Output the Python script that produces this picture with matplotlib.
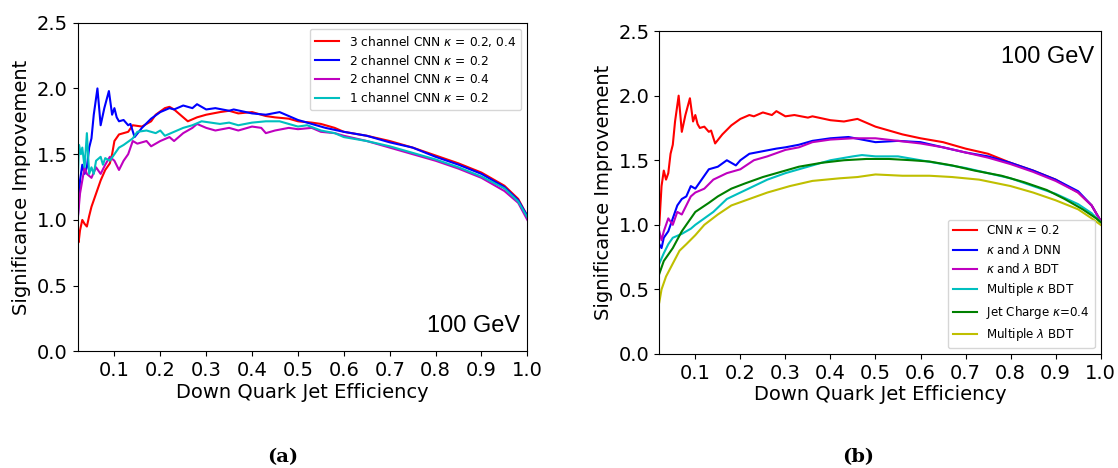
import matplotlib
matplotlib.use("Agg")
import matplotlib.pyplot as plt

# panel (a): 100 GeV, CNN channel comparison
x_3ch = [0.02, 0.022, 0.025, 0.03, 0.035, 0.04, 0.045, 0.05, 0.06, 0.07, 0.08, 0.09, 0.095,
         0.1, 0.11, 0.13, 0.14, 0.16, 0.18, 0.19, 0.21, 0.22, 0.23, 0.25, 0.26, 0.28, 0.3,
         0.33, 0.35, 0.37, 0.4, 0.43, 0.45, 0.48, 0.5, 0.53, 0.55, 0.58, 0.6, 0.65, 0.7,
         0.75, 0.8, 0.85, 0.9, 0.95, 0.98, 1.0]
y_3ch = [0.9, 0.83, 0.92, 1.0, 0.97, 0.95, 1.03, 1.1, 1.2, 1.3, 1.38, 1.43, 1.5,
         1.6, 1.65, 1.67, 1.72, 1.71, 1.75, 1.8, 1.85, 1.86, 1.84, 1.78, 1.75, 1.78, 1.8,
         1.82, 1.83, 1.81, 1.82, 1.79, 1.78, 1.77, 1.75, 1.74, 1.73, 1.7, 1.67, 1.64, 1.6,
         1.55, 1.49, 1.43, 1.36, 1.26, 1.16, 1.03]

# same network is the "CNN kappa = 0.2" curve in panel (b)
x_2ch_02 = [0.02, 0.025, 0.03, 0.035, 0.04, 0.045, 0.05, 0.055, 0.063, 0.07, 0.078, 0.088,
            0.095, 0.1, 0.105, 0.11, 0.12, 0.13, 0.135, 0.144, 0.16, 0.18, 0.2, 0.22, 0.23,
            0.25, 0.27, 0.28, 0.3, 0.32, 0.35, 0.36, 0.4, 0.43, 0.46, 0.48, 0.5, 0.53, 0.56,
            0.6, 0.65, 0.7, 0.75, 0.8, 0.85, 0.9, 0.95, 0.98, 1.0]
y_2ch_02 = [1.0, 1.3, 1.42, 1.35, 1.4, 1.55, 1.62, 1.8, 2.0, 1.72, 1.85, 1.98,
            1.8, 1.85, 1.78, 1.75, 1.76, 1.72, 1.73, 1.63, 1.7, 1.77, 1.82, 1.85, 1.84,
            1.87, 1.85, 1.88, 1.84, 1.85, 1.83, 1.84, 1.81, 1.8, 1.82, 1.79, 1.76, 1.73, 1.7,
            1.67, 1.64, 1.59, 1.55, 1.48, 1.42, 1.35, 1.25, 1.15, 1.03]

x_2ch_04 = [0.02, 0.025, 0.03, 0.035, 0.04, 0.05, 0.06, 0.07, 0.08, 0.09, 0.1, 0.11, 0.12,
            0.13, 0.14, 0.15, 0.17, 0.18, 0.2, 0.22, 0.23, 0.25, 0.27, 0.28, 0.3, 0.32, 0.35,
            0.37, 0.4, 0.42, 0.43, 0.45, 0.48, 0.5, 0.53, 0.55, 0.58, 0.6, 0.65, 0.7, 0.75,
            0.8, 0.85, 0.9, 0.95, 0.98, 1.0]
y_2ch_04 = [1.0, 1.2, 1.3, 1.4, 1.35, 1.32, 1.4, 1.35, 1.42, 1.48, 1.45, 1.38, 1.45,
            1.5, 1.6, 1.58, 1.6, 1.56, 1.6, 1.63, 1.6, 1.66, 1.7, 1.73, 1.7, 1.68, 1.7,
            1.68, 1.71, 1.7, 1.66, 1.68, 1.7, 1.69, 1.7, 1.67, 1.66, 1.64, 1.6, 1.55, 1.5,
            1.45, 1.39, 1.32, 1.22, 1.13, 1.0]

x_1ch = [0.02, 0.023, 0.027, 0.03, 0.035, 0.04, 0.045, 0.05, 0.055, 0.06, 0.07, 0.075,
         0.08, 0.09, 0.1, 0.11, 0.12, 0.14, 0.15, 0.17, 0.19, 0.2, 0.21, 0.23, 0.25, 0.27,
         0.29, 0.31, 0.33, 0.35, 0.37, 0.4, 0.43, 0.46, 0.48, 0.5, 0.52, 0.55, 0.58, 0.6,
         0.65, 0.7, 0.75, 0.8, 0.85, 0.9, 0.95, 0.98, 1.0]
y_1ch = [1.3, 1.57, 1.5, 1.55, 1.4, 1.66, 1.35, 1.4, 1.35, 1.45, 1.48, 1.42,
         1.47, 1.45, 1.5, 1.55, 1.57, 1.62, 1.67, 1.68, 1.66, 1.68, 1.64, 1.67, 1.7, 1.72,
         1.75, 1.74, 1.73, 1.74, 1.72, 1.74, 1.75, 1.75, 1.73, 1.71, 1.72, 1.68, 1.66, 1.63,
         1.6, 1.56, 1.51, 1.46, 1.4, 1.33, 1.24, 1.14, 1.02]

# panel (b): 100 GeV, comparison with other taggers
x_dnn = [0.02, 0.025, 0.03, 0.04, 0.05, 0.06, 0.07, 0.08, 0.09, 0.1, 0.11, 0.12, 0.13,
         0.15, 0.17, 0.19, 0.2, 0.22, 0.25, 0.28, 0.3, 0.33, 0.36, 0.4, 0.44, 0.47, 0.5,
         0.55, 0.6, 0.65, 0.7, 0.75, 0.8, 0.85, 0.9, 0.95, 0.98, 1.0]
y_dnn = [0.85, 0.82, 0.9, 0.95, 1.05, 1.15, 1.2, 1.22, 1.3, 1.28, 1.33, 1.38, 1.43,
         1.45, 1.5, 1.46, 1.5, 1.55, 1.57, 1.59, 1.6, 1.62, 1.65, 1.67, 1.68, 1.66, 1.64,
         1.65, 1.64, 1.6, 1.56, 1.53, 1.48, 1.42, 1.35, 1.26, 1.15, 1.03]

x_bdt_kl = [0.02, 0.025, 0.03, 0.04, 0.05, 0.06, 0.07, 0.08, 0.09, 0.1, 0.12, 0.14, 0.17,
            0.2, 0.23, 0.26, 0.3, 0.33, 0.36, 0.4, 0.45, 0.5, 0.55, 0.6, 0.65, 0.7, 0.75,
            0.8, 0.85, 0.9, 0.95, 0.98, 1.0]
y_bdt_kl = [0.95, 0.88, 0.95, 1.05, 1.0, 1.1, 1.08, 1.15, 1.22, 1.25, 1.28, 1.35, 1.4,
            1.43, 1.5, 1.53, 1.58, 1.6, 1.64, 1.66, 1.67, 1.67, 1.65, 1.63, 1.6, 1.56, 1.52,
            1.47, 1.41, 1.34, 1.25, 1.15, 1.03]

x_bdt_k = [0.02, 0.03, 0.04, 0.05, 0.07, 0.09, 0.1, 0.12, 0.14, 0.17, 0.2, 0.23, 0.26,
           0.3, 0.35, 0.4, 0.45, 0.47, 0.5, 0.55, 0.6, 0.65, 0.7, 0.75, 0.8, 0.85, 0.9,
           0.95, 0.98, 1.0]
y_bdt_k = [0.7, 0.78, 0.85, 0.9, 0.93, 0.97, 1.0, 1.05, 1.1, 1.2, 1.25, 1.3, 1.35,
           1.4, 1.45, 1.5, 1.53, 1.54, 1.53, 1.53, 1.5, 1.47, 1.44, 1.4, 1.36, 1.3, 1.24,
           1.16, 1.09, 1.02]

x_jc = [0.02, 0.03, 0.05, 0.07, 0.09, 0.1, 0.13, 0.15, 0.18, 0.21, 0.25, 0.29, 0.33,
        0.38, 0.43, 0.48, 0.53, 0.58, 0.62, 0.67, 0.72, 0.78, 0.83, 0.88, 0.92, 0.96,
        0.99, 1.0]
y_jc = [0.62, 0.72, 0.82, 0.95, 1.05, 1.1, 1.17, 1.22, 1.28, 1.32, 1.37, 1.41, 1.45,
        1.48, 1.5, 1.51, 1.51, 1.5, 1.49, 1.46, 1.42, 1.38, 1.33, 1.27, 1.2, 1.12,
        1.05, 1.02]

x_bdt_l = [0.02, 0.025, 0.035, 0.05, 0.065, 0.08, 0.1, 0.12, 0.15, 0.18, 0.22, 0.26,
           0.31, 0.36, 0.42, 0.46, 0.5, 0.56, 0.62, 0.67, 0.73, 0.8, 0.85, 0.9, 0.95,
           0.98, 1.0]
y_bdt_l = [0.4, 0.5, 0.6, 0.7, 0.8, 0.85, 0.92, 1.0, 1.08, 1.15, 1.2, 1.25,
           1.3, 1.34, 1.36, 1.37, 1.39, 1.38, 1.38, 1.37, 1.35, 1.3, 1.25, 1.19, 1.12,
           1.05, 1.0]

fig = plt.figure(figsize=(11.18, 4.68), dpi=100)
ax1 = fig.add_axes([0.0695, 0.249, 0.4022, 0.7026])
ax2 = fig.add_axes([0.5897, 0.2436, 0.3948, 0.690])

ax1.plot(x_3ch, y_3ch, 'r', lw=1.5, label=r'3 channel CNN $\kappa$ = 0.2, 0.4')
ax1.plot(x_2ch_02, y_2ch_02, 'b', lw=1.5, label=r'2 channel CNN $\kappa$ = 0.2')
ax1.plot(x_2ch_04, y_2ch_04, 'm', lw=1.5, label=r'2 channel CNN $\kappa$ = 0.4')
ax1.plot(x_1ch, y_1ch, 'c', lw=1.5, label=r'1 channel CNN $\kappa$ = 0.2')
ax1.legend(loc='upper right', fontsize=8.8, labelspacing=0.4)
ax1.text(0.985, 0.045, '100 GeV', transform=ax1.transAxes, ha='right', va='bottom',
         fontsize=17, family='Liberation Sans')

ax2.plot(x_2ch_02, y_2ch_02, 'r', lw=1.5, label=r'CNN $\kappa$ = 0.2')
ax2.plot(x_dnn, y_dnn, 'b', lw=1.5, label=r'$\kappa$ and $\lambda$ DNN')
ax2.plot(x_bdt_kl, y_bdt_kl, 'm', lw=1.5, label=r'$\kappa$ and $\lambda$ BDT')
ax2.plot(x_bdt_k, y_bdt_k, 'c', lw=1.5, label=r'Multiple $\kappa$ BDT')
ax2.plot(x_jc, y_jc, 'g', lw=1.5, label=r'Jet Charge $\kappa$=0.4')
ax2.plot(x_bdt_l, y_bdt_l, 'y', lw=1.5, label=r'Multiple $\lambda$ BDT')
ax2.legend(loc='lower right', fontsize=8.6, labelspacing=0.45)
ax2.text(0.985, 0.955, '100 GeV', transform=ax2.transAxes, ha='right', va='top',
         fontsize=17, family='Liberation Sans')

for ax in (ax1, ax2):
    ax.set_xlim(0.02, 1.0)
    ax.set_ylim(0.0, 2.5)
    ax.set_xticks([0.1, 0.2, 0.3, 0.4, 0.5, 0.6, 0.7, 0.8, 0.9, 1.0])
    ax.set_yticks([0.0, 0.5, 1.0, 1.5, 2.0, 2.5])
    ax.tick_params(labelsize=14)
    ax.set_xlabel('Down Quark Jet Efficiency', fontsize=14, labelpad=2)
    ax.set_ylabel('Significance Improvement', fontsize=14)

fig.text(283 / 1118, 1 - 457 / 468, '(a)', ha='center', va='center',
         fontsize=14, fontweight='bold', family='DejaVu Serif')
fig.text(858 / 1118, 1 - 457 / 468, '(b)', ha='center', va='center',
         fontsize=14, fontweight='bold', family='DejaVu Serif')

fig.savefig('out.png', dpi=100)
